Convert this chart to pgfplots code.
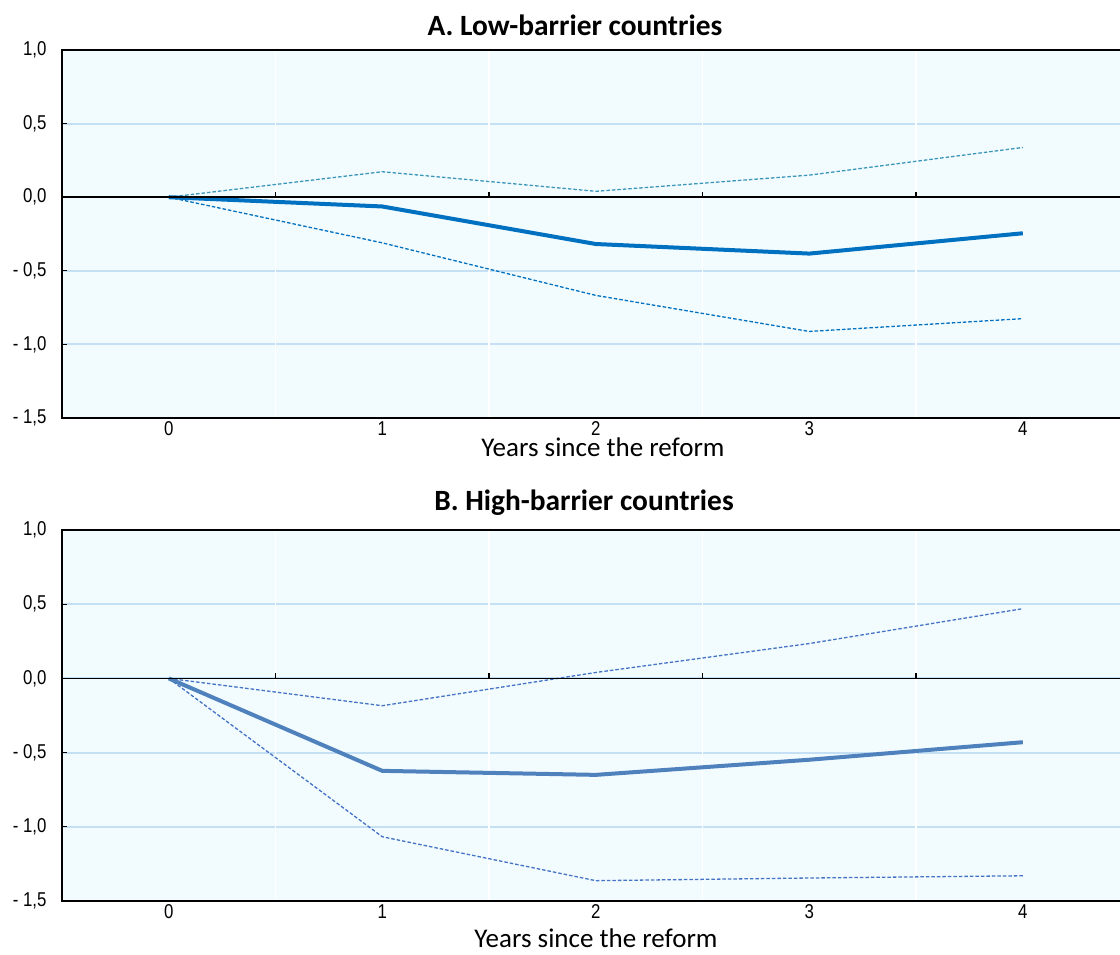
\documentclass[border=0pt]{standalone}
\usepackage{pgfplots}
\pgfplotsset{compat=1.18}
\usepackage{fontspec}
\setmainfont{Carlito}
\newfontfamily\tickfont[FakeStretch=0.84]{Liberation Sans}
\definecolor{bgcol}{RGB}{242,252,255}
\definecolor{gridcol}{RGB}{197,224,244}
\definecolor{mainA}{RGB}{0,112,192}
\definecolor{upA}{RGB}{60,150,185}
\definecolor{loA}{RGB}{0,112,192}
\definecolor{mainB}{RGB}{79,129,189}
\definecolor{dashB}{RGB}{68,114,196}

\pgfplotstableread{
x main up lo
0 0 0 0
1 -0.063 0.173 -0.310
2 -0.318 0.040 -0.667
3 -0.383 0.150 -0.912
4 -0.245 0.338 -0.825
}\dataA
\pgfplotstableread{
x main up lo
0 0 0 0
1 -0.623 -0.184 -1.067
2 -0.650 0.040 -1.363
3 -0.548 0.235 -1.345
4 -0.430 0.470 -1.330
}\dataB

\pgfplotsset{
  panel/.style={
    anchor=north west,
    width=1058pt,
    scale only axis,
    xmin=-0.5, xmax=4.455,
    ymin=-1.5, ymax=1.0,
    xtick={0,1,2,3,4},
    xticklabels={0,1,2,3,4},
    ytick={-1.5,-1,-0.5,0,0.5,1},
    yticklabels={{- 1,5},{- 1,0},{- 0,5},{0,0},{0,5},{1,0}},
    ymajorgrids,
    grid style={gridcol, line width=2pt},
    extra x ticks={0.5,1.5,2.5,3.5},
    extra x tick labels={},
    extra x tick style={grid=major, major grid style={white, line width=1.5pt}, major tick length=0pt},
    axis background/.style={fill=bgcol},
    axis line style={draw=none},
    y tick label style={font=\tickfont\fontsize{20}{22}\selectfont, black, xshift=-12pt},
    x tick label style={font=\tickfont\fontsize{20}{22}\selectfont, black, yshift=0pt},
    xtick style={draw=none},
    ytick style={black, line width=1.2pt},
    ytick pos=left,
    tick align=inside,
    major tick length=5pt,
    clip=false,
  },
}

\newcommand{\panelframe}{%
\draw[black, line width=1.5pt] (axis cs:-0.5,0) -- (axis cs:4.455,0);
\draw[black, line width=1.2pt] (axis cs:0.5,0) -- (axis cs:0.5,0.035);
\draw[black, line width=1.2pt] (axis cs:1.5,0) -- (axis cs:1.5,0.035);
\draw[black, line width=1.2pt] (axis cs:2.5,0) -- (axis cs:2.5,0.035);
\draw[black, line width=1.2pt] (axis cs:3.5,0) -- (axis cs:3.5,0.035);
\draw[black, line width=2pt] (rel axis cs:1,1) -- (rel axis cs:0,1) -- (rel axis cs:0,0) -- (rel axis cs:1,0);
}

\begin{document}
\begin{tikzpicture}
\path[use as bounding box] (0,0) rectangle (1120pt,-954pt);

% Panel A
\node[font=\bfseries\fontsize{29.4}{32}\selectfont, anchor=base] at (575pt,-35pt) {A. Low-barrier countries};
\begin{axis}[panel, at={(62pt,-50pt)}, height=368pt]
\addplot[upA, line width=1.3pt, dash pattern=on 3.5pt off 2pt] table[x=x,y=up]{\dataA};
\addplot[loA, line width=1.3pt, dash pattern=on 3.5pt off 2pt] table[x=x,y=lo]{\dataA};
\addplot[mainA, line width=4pt] table[x=x,y=main]{\dataA};
\panelframe
\end{axis}
\node[font=\fontsize{27}{30}\selectfont, anchor=base] at (603pt,-456pt) {Years since the reform};

% Panel B
\node[font=\bfseries\fontsize{29.4}{32}\selectfont, anchor=base] at (584pt,-510pt) {B. High-barrier countries};
\begin{axis}[panel, at={(62pt,-530pt)}, height=371pt]
\addplot[dashB, line width=1.3pt, dash pattern=on 3.5pt off 2pt] table[x=x,y=up]{\dataB};
\addplot[dashB, line width=1.3pt, dash pattern=on 3.5pt off 2pt] table[x=x,y=lo]{\dataB};
\addplot[mainB, line width=4pt] table[x=x,y=main]{\dataB};
\panelframe
\end{axis}
\node[font=\fontsize{27}{30}\selectfont, anchor=base] at (596pt,-947pt) {Years since the reform};
\end{tikzpicture}
\end{document}
